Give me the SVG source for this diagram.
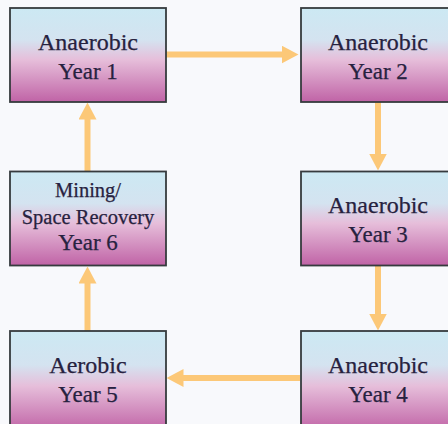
<svg xmlns="http://www.w3.org/2000/svg" width="448" height="424" viewBox="0 0 448 424">
  <defs>
    <linearGradient id="boxGrad" x1="0" y1="0" x2="0" y2="1">
      <stop offset="0" stop-color="#CCE9F3"/>
      <stop offset="0.34" stop-color="#D4E3F0"/>
      <stop offset="0.55" stop-color="#E6BEDA"/>
      <stop offset="1" stop-color="#C063A6"/>
    </linearGradient>
    <marker id="head" viewBox="0 -9 17 18" refX="0.5" refY="0" markerWidth="17" markerHeight="18" markerUnits="userSpaceOnUse" orient="auto">
      <path d="M0,-9 L17,0 L0,9 z" fill="#FCC878"/>
    </marker>
  </defs>
  <style>
    .box { fill: url(#boxGrad); stroke: #363B3E; stroke-width: 1.8; }
    .lbl { font-family: "Liberation Serif", "Times New Roman", serif; font-size: 23px; fill: #272240; text-anchor: middle; stroke: #272240; stroke-width: 0.25; }
    .big { font-size: 24px; }
    .sm { font-size: 20.5px; }
    .conn { stroke: #FCC878; stroke-width: 6; fill: none; marker-end: url(#head); }
  </style>
  <rect width="448" height="424" fill="#F8F9FC"/>

  <g id="connectors">
    <path class="conn" d="M166,54.5 H282"/>
    <path class="conn" d="M378,102 V154"/>
    <path class="conn" d="M378,266 V314"/>
    <path class="conn" d="M300,378 H183"/>
    <path class="conn" d="M87.5,331 V283"/>
    <path class="conn" d="M87.5,171 V119"/>
  </g>

  <g id="node1">
    <rect class="box" x="10" y="8" width="156" height="94"/>
    <text class="lbl big" x="88" y="50">Anaerobic</text>
    <text class="lbl" x="88" y="79">Year 1</text>
  </g>
  <g id="node2">
    <rect class="box" x="301" y="8" width="156" height="94"/>
    <text class="lbl big" x="378" y="50">Anaerobic</text>
    <text class="lbl" x="378" y="79">Year 2</text>
  </g>
  <g id="node3">
    <rect class="box" x="301" y="171.5" width="156" height="94"/>
    <text class="lbl big" x="378" y="213">Anaerobic</text>
    <text class="lbl" x="378" y="242">Year 3</text>
  </g>
  <g id="node4">
    <rect class="box" x="301" y="331" width="156" height="100"/>
    <text class="lbl big" x="378" y="373">Anaerobic</text>
    <text class="lbl" x="378" y="402">Year 4</text>
  </g>
  <g id="node5">
    <rect class="box" x="10" y="331" width="156" height="100"/>
    <text class="lbl big" x="88" y="373">Aerobic</text>
    <text class="lbl" x="88" y="402">Year 5</text>
  </g>
  <g id="node6">
    <rect class="box" x="10" y="171.5" width="156" height="94"/>
    <text class="lbl sm" x="88" y="197">Mining/</text>
    <text class="lbl sm" x="88" y="224">Space Recovery</text>
    <text class="lbl" x="88" y="250">Year 6</text>
  </g>
</svg>
